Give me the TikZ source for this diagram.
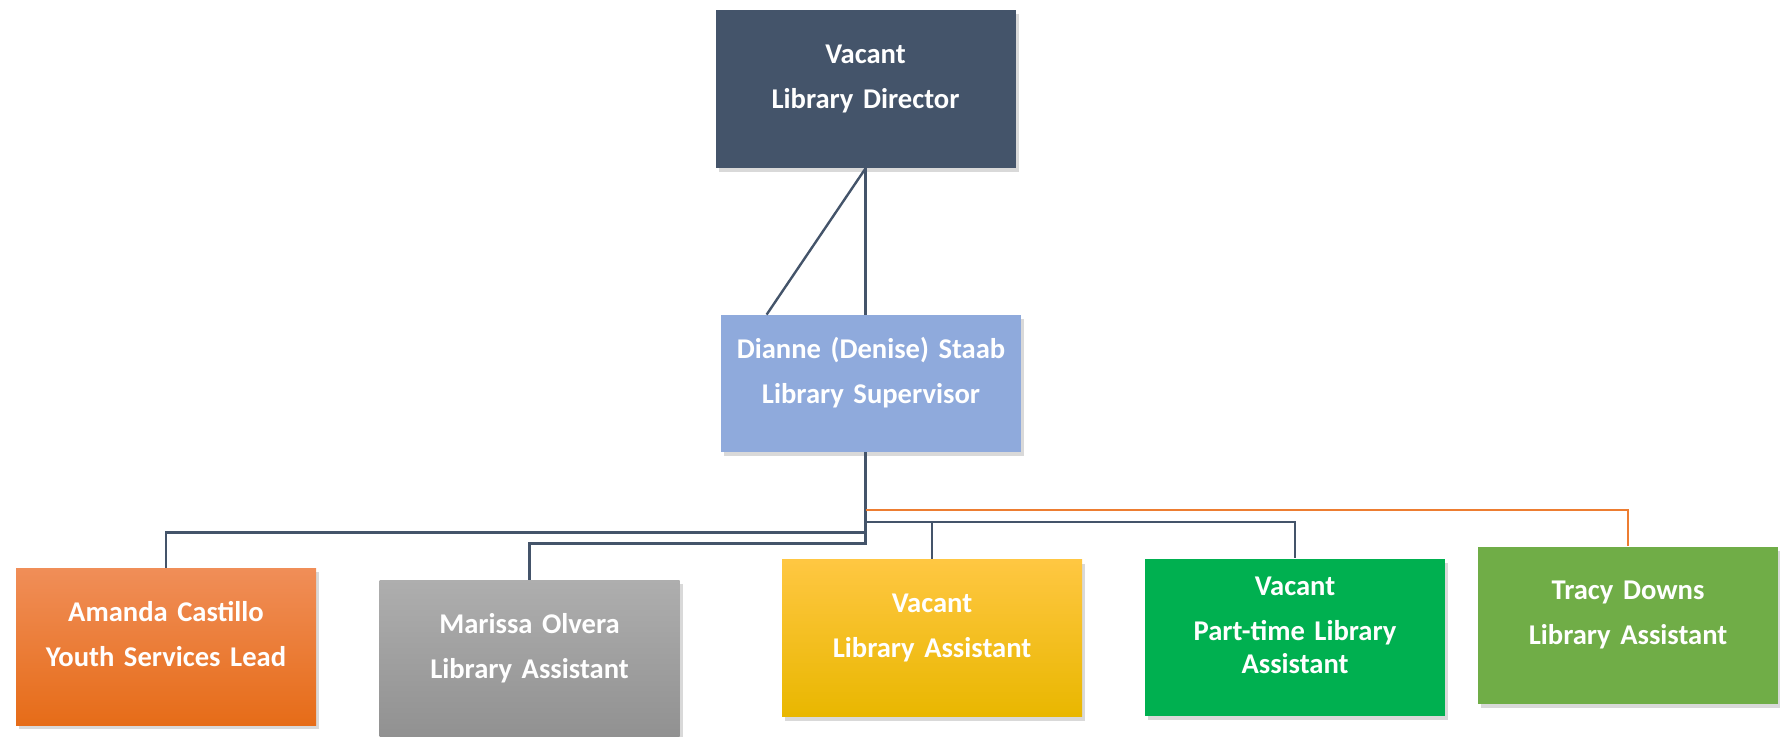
\documentclass[tikz,border=0pt]{standalone}
\usepackage{fontspec}
\setmainfont{Carlito}
\usetikzlibrary{positioning,calc,shadows}

\definecolor{navy}{RGB}{68,84,106}
\definecolor{skyblue}{RGB}{143,170,220}
\definecolor{kelly}{RGB}{0,176,80}
\definecolor{leaf}{RGB}{112,173,71}
\definecolor{tangerine}{RGB}{237,125,49}

\begin{document}
\begin{tikzpicture}[
  x=0.5pt, y=-0.5pt,
  unit/.style={minimum width=150pt,minimum height=78.5pt,inner sep=0pt,text width=148pt,
    execute at begin node=\centering,
    text height=0pt,text depth=25.5pt,text=white,font=\fontsize{14.3}{16.5}\selectfont\bfseries,
    drop shadow={shadow xshift=1.5pt,shadow yshift=-2pt,opacity=0.3}},
  link/.style={draw=navy,line width=1.2pt}
]
\useasboundingbox (0,0) rectangle (1780,736);

\node[unit,fill=navy,minimum height=79pt] (dir) at (865.5,89) {Vacant\\[6pt]Library Director};
\node[unit,fill=skyblue,minimum height=68.5pt] (sup) at (871,383.5) {Dianne (Denise) Staab\\[6pt]Library Supervisor};
\node[unit,top color={rgb,255:red,240;green,142;blue,88},middle color={rgb,255:red,244;green,125;blue,42},
      bottom color={rgb,255:red,230;green,108;blue,24}] (ysl) at (166,646.5) {Amanda Castillo\\[6pt]Youth Services Lead};
\node[unit,top color={rgb,255:red,174;green,174;blue,174},bottom color={rgb,255:red,145;green,145;blue,145}]
      (olv) at (529.5,658.5) {Marissa Olvera\\[6pt]Library Assistant};
\node[unit,top color={rgb,255:red,255;green,199;blue,66},middle color={rgb,255:red,255;green,192;blue,0},
      bottom color={rgb,255:red,233;green,183;blue,0}] (vla) at (932,638) {Vacant\\[6pt]Library Assistant};
\node[unit,fill=kelly,text depth=42pt] (pla) at (1295,637) {Vacant\\[6pt]Part-time Library\\Assistant};
\node[unit,fill=leaf] (tdw) at (1628,625) {Tracy Downs\\[6pt]Library Assistant};

% director to supervisor
\draw[link] (dir.south) -- (dir.south |- sup.north);
\draw[link] (dir.south) -- ([xshift=23pt]sup.north west);

% branch levels above the staff boxes
\coordinate (kys) at ([yshift=17.5pt]ysl.north);
\coordinate (kol) at ([yshift=18pt]olv.north);
\coordinate (kla) at ([yshift=18.5pt]vla.north);
\coordinate (ktd) at ([yshift=18pt]tdw.north);

\draw[link] (dir.south |- sup.south) -- (dir.south |- kol) -| (olv.north);
\draw[link] (kys -| dir.south) -| (ysl.north);
\draw[link] (kla -| dir.south) -| (pla.north);
\draw[link] (kla -| vla.north) -- (vla.north);
\draw[link,draw=tangerine] (ktd -| dir.south) -| (tdw.north);
\end{tikzpicture}
\end{document}
